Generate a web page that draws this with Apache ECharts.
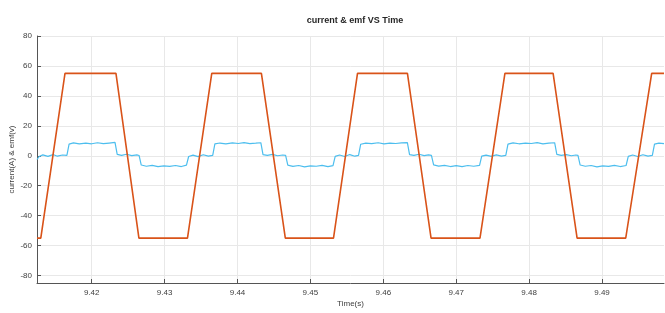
<!DOCTYPE html>
<html lang="en">
<head>
    <meta charset="UTF-8">
    <title>current & emf VS Time</title>
    <script src="https://cdn.jsdelivr.net/npm/echarts@6.0.0/dist/echarts.min.js"></script>
    <style>
        body { margin: 0; background: #ffffff; }
        #chart { width: 665px; height: 313px; }
    </style>
</head>
<body>
    <div id="chart"></div>
    <script>
        // tick labels
        var xTicks = [9.42, 9.43, 9.44, 9.45, 9.46, 9.47, 9.48, 9.49];
        var yTicks = [-80, -60, -40, -20, 0, 20, 40, 60, 80];

        // emf: trapezoid corners (s, V)
        var emfTime = [9.4125, 9.41302, 9.41634, 9.42333, 9.42648, 9.43314, 9.43647, 9.44328, 9.44656,
                       9.45317, 9.45646, 9.46331, 9.46655, 9.47326, 9.47668, 9.48329, 9.48658, 9.49325,
                       9.49681, 9.4985];
        var emfValue = [-55, -55, 55, 55, -55, -55, 55, 55, -55,
                        -55, 55, 55, -55, -55, 55, 55, -55, -55,
                        55, 55];

        // current (A)
        var currentTime = [
            9.4125, 9.4128, 9.4133, 9.4140, 9.4147, 9.4153, 9.4160, 9.4166,
            9.4169, 9.4175, 9.4183, 9.4192, 9.4200, 9.4208, 9.4216, 9.4224, 9.4232,
            9.4235, 9.4241, 9.4248, 9.4255, 9.4262, 9.4265,
            9.4268, 9.4275, 9.4283, 9.4291, 9.4299, 9.4307, 9.4315, 9.4323, 9.4330,
            9.4333, 9.4339, 9.4346, 9.4353, 9.4360, 9.4366,
            9.4369, 9.4376, 9.4384, 9.4393, 9.4401, 9.4409, 9.4417, 9.4425, 9.4432,
            9.4435, 9.4441, 9.4448, 9.4455, 9.4462, 9.4466,
            9.4469, 9.4476, 9.4484, 9.4492, 9.4500, 9.4508, 9.4516, 9.4524, 9.4531,
            9.4534, 9.4540, 9.4547, 9.4554, 9.4561, 9.4566,
            9.4569, 9.4576, 9.4584, 9.4593, 9.4601, 9.4609, 9.4617, 9.4625, 9.4633,
            9.4636, 9.4642, 9.4649, 9.4656, 9.4662, 9.4666,
            9.4669, 9.4676, 9.4684, 9.4692, 9.4700, 9.4708, 9.4716, 9.4724, 9.4732,
            9.4735, 9.4741, 9.4748, 9.4755, 9.4762, 9.4768,
            9.4771, 9.4778, 9.4786, 9.4795, 9.4803, 9.4811, 9.4819, 9.4827, 9.4835,
            9.4838, 9.4844, 9.4851, 9.4858, 9.4864, 9.4867,
            9.4870, 9.4877, 9.4885, 9.4893, 9.4901, 9.4909, 9.4917, 9.4925, 9.4933,
            9.4936, 9.4942, 9.4949, 9.4956, 9.4963, 9.4969,
            9.4972, 9.4978, 9.4985
        ];
        var currentValue = [
            -2.5, -0.5, 0.6, -0.4, 0.8, -0.3, 0.5, 0.2,
            7.8, 8.6, 7.9, 8.4, 8.0, 8.7, 8.1, 8.5, 8.9,
            0.9, 0.3, 1.0, 0.1, 0.6, 0.2,
            -6.2, -7.0, -6.4, -7.3, -6.8, -7.1, -6.5, -7.2, -6.3,
            -0.5, 0.4, -0.6, 0.7, -0.2, 0.3,
            7.9, 8.5, 8.0, 8.6, 8.2, 8.8, 8.1, 8.4, 8.7,
            0.8, 0.2, 0.9, 0.0, 0.5, 0.3,
            -6.3, -7.1, -6.5, -7.4, -6.7, -7.0, -6.4, -7.3, -6.6,
            -0.4, 0.5, -0.5, 0.8, -0.3, 0.2,
            7.7, 8.4, 8.1, 8.7, 7.9, 8.5, 8.2, 8.6, 8.8,
            0.7, 0.2, 1.0, 0.1, 0.6, 0.3,
            -6.1, -6.9, -6.4, -7.2, -6.6, -7.3, -6.5, -7.0, -6.4,
            -0.3, 0.4, -0.4, 0.6, -0.2, 0.3,
            7.8, 8.6, 8.0, 8.5, 8.2, 8.8, 7.9, 8.4, 8.7,
            0.9, 0.3, 0.8, 0.0, 0.5, 0.2,
            -6.2, -7.0, -6.5, -7.4, -6.8, -7.1, -6.4, -7.2, -6.5,
            -0.4, 0.5, -0.5, 0.7, -0.2, 0.3,
            7.8, 8.4, 8.1
        ];

        var chart = echarts.init(document.getElementById('chart'));

        var axisText = { color: '#404040', fontSize: 8, fontFamily: 'Liberation Sans' };
        var gridLine = { show: true, lineStyle: { color: '#e8e8e8', width: 1 } };

        var option = {
            animation: false,
            backgroundColor: '#ffffff',
            title: {
                text: 'current & emf VS Time',
                left: 350,
                textAlign: 'center',
                top: 11,
                textStyle: { fontSize: 9, fontWeight: 'bold', color: '#262626', fontFamily: 'Liberation Sans' }
            },
            grid: { left: 37, right: 1, top: 36, bottom: 30, containLabel: false, outerBoundsMode: 'none' },
            xAxis: {
                type: 'value',
                min: 9.4125,
                max: 9.4985,
                name: 'Time(s)',
                nameLocation: 'middle',
                nameGap: 17,
                nameMoveOverlap: false,
                nameTextStyle: axisText,
                axisLine: { onZero: false, lineStyle: { color: '#555555', width: 1 } },
                axisTick: { inside: true, length: 4, customValues: xTicks, lineStyle: { color: '#555555' } },
                axisLabel: Object.assign({ customValues: xTicks, margin: 6,
                    formatter: function (v) { return v.toFixed(2); } }, axisText),
                splitLine: gridLine
            },
            yAxis: {
                type: 'value',
                min: -85,
                max: 80,
                name: 'current(A) & emf(v)',
                nameLocation: 'middle',
                nameGap: 21,
                nameMoveOverlap: false,
                nameTextStyle: axisText,
                axisLine: { show: true, onZero: false, lineStyle: { color: '#555555', width: 1 } },
                axisTick: { show: true, inside: true, length: 4, customValues: yTicks, lineStyle: { color: '#555555' } },
                axisLabel: Object.assign({ customValues: yTicks, margin: 5 }, axisText),
                splitLine: gridLine
            },
            series: [
                {
                    name: 'current',
                    type: 'line',
                    showSymbol: false,
                    lineStyle: { color: '#4DBEEE', width: 1.2 },
                    data: currentTime.map(function (t, i) { return [t, currentValue[i]]; })
                },
                {
                    name: 'emf',
                    type: 'line',
                    showSymbol: false,
                    lineStyle: { color: '#D95319', width: 1.6 },
                    data: emfTime.map(function (t, i) { return [t, emfValue[i]]; })
                }
            ]
        };

        chart.setOption(option);
    </script>
</body>
</html>
